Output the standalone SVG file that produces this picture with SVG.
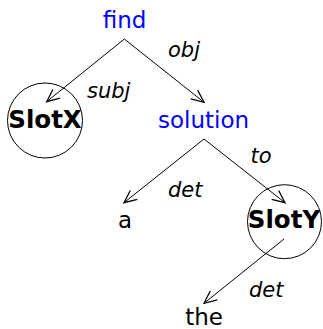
<svg xmlns="http://www.w3.org/2000/svg" width="323" height="329" viewBox="0 0 323 329">
<style>
.node{font-family:"DejaVu Sans",sans-serif;font-size:23px;text-anchor:middle}
.blue{fill:#0000ff}
.bold{font-weight:bold;fill:#000;font-size:24.5px}
.plain{fill:#000}
.lbl{font-family:"DejaVu Sans",sans-serif;font-size:21px;font-style:italic;fill:#000}
.edge{stroke:#000;stroke-width:1;fill:none}
.ring{stroke:#000;stroke-width:1;fill:none}
</style>
<defs>
<marker id="arr" markerUnits="userSpaceOnUse" markerWidth="20" markerHeight="20" refX="0" refY="0" viewBox="-12 -8 14 16" orient="auto" overflow="visible">
<path d="M-10,-4.5 L0,0 L-10,4.5" fill="none" stroke="#000" stroke-width="1"/>
</marker>
</defs>
<g id="connectors">
<line class="edge" x1="124.3" y1="39" x2="46.7" y2="101.7" marker-end="url(#arr)"/>
<line class="edge" x1="124.3" y1="39" x2="204" y2="102.3" marker-end="url(#arr)"/>
<line class="edge" x1="204" y1="139" x2="124" y2="202.7" marker-end="url(#arr)"/>
<line class="edge" x1="204" y1="139" x2="285" y2="202.7" marker-end="url(#arr)"/>
<line class="edge" x1="284" y1="239" x2="204" y2="303.3" marker-end="url(#arr)"/>
<text class="lbl" x="168" y="57">obj</text>
<text class="lbl" x="87" y="98">subj</text>
<text class="lbl" x="250.5" y="163">to</text>
<text class="lbl" x="168" y="197">det</text>
<text class="lbl" x="249" y="297">det</text>
</g>
<g id="find"><text class="node blue" x="124.5" y="28">find</text></g>
<g id="SlotX"><circle class="ring" cx="45" cy="120.5" r="37.5"/><text class="node bold" x="45" y="128">SlotX</text></g>
<g id="solution"><text class="node blue" x="203.5" y="128">solution</text></g>
<g id="a"><text class="node plain" x="125" y="228">a</text></g>
<g id="SlotY"><circle class="ring" cx="284.5" cy="221.7" r="37"/><text class="node bold" x="284" y="228">SlotY</text></g>
<g id="the"><text class="node plain" x="204" y="325">the</text></g>
</svg>
